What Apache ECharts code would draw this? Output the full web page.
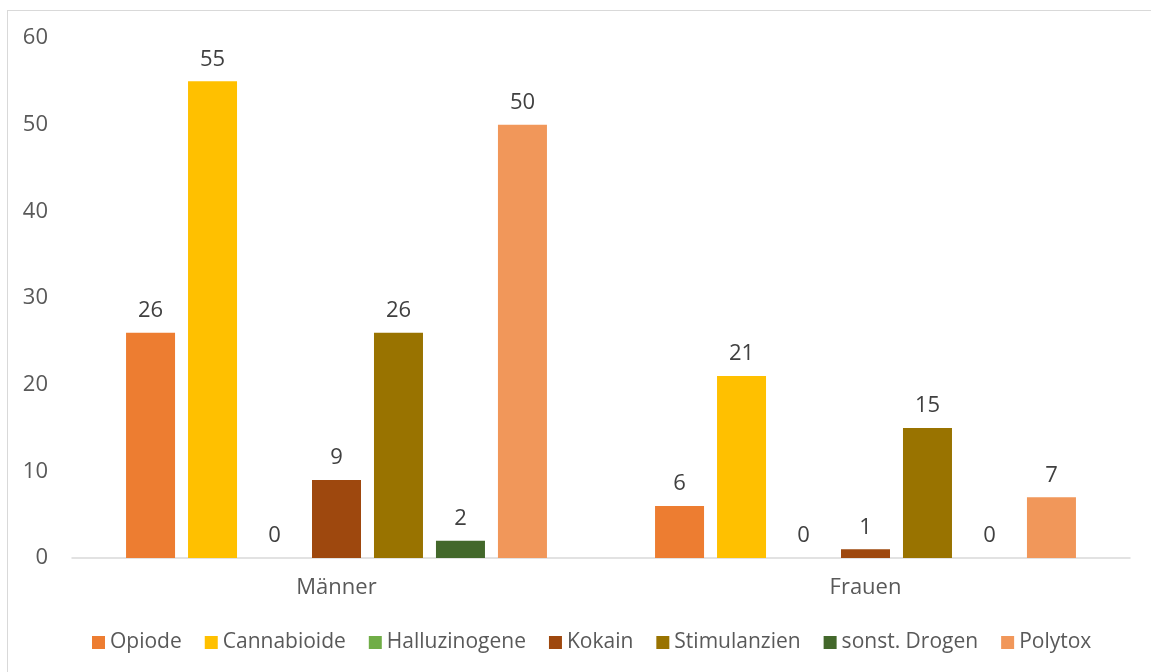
<!DOCTYPE html>
<html><head><meta charset="utf-8">
<script src="https://cdn.jsdelivr.net/npm/echarts@6/dist/echarts.min.js"></script>
<style>
html,body{margin:0;padding:0;background:#fff;}
#frame{position:absolute;left:7px;top:10px;width:1150px;height:670px;border:1px solid #d9d9d9;box-sizing:border-box;}
#chart{position:absolute;left:0;top:0;width:1151px;height:672px;}
</style></head>
<body>
<div id="frame"></div>
<div id="chart"></div>
<script>
const categories = ['Männer', 'Frauen'];
const seriesNames = ['Opiode', 'Cannabioide', 'Halluzinogene', 'Kokain', 'Stimulanzien', 'sonst. Drogen', 'Polytox'];
const opiode = [26, 6];
const cannabioide = [55, 21];
const halluzinogene = [0, 0];
const kokain = [9, 1];
const stimulanzien = [26, 15];
const sonstDrogen = [2, 0];
const polytox = [50, 7];
const yTicks = [0, 10, 20, 30, 40, 50, 60];

const values = [opiode, cannabioide, halluzinogene, kokain, stimulanzien, sonstDrogen, polytox];
const colors = ['#ED7D31', '#FFC000', '#70AD47', '#9E480E', '#997300', '#43682B', '#F1975A'];
const font = '"Open Sans", "Noto Sans", sans-serif';

const chart = echarts.init(document.getElementById('chart'), null, {renderer: 'canvas'});
chart.setOption({
  animation: false,
  textStyle: {fontFamily: font},
  grid: {left: 72, right: 21, top: 38, bottom: 114, containLabel: false},
  legend: {
    bottom: 14, left: 87,
    itemWidth: 13, itemHeight: 13, itemGap: 23,
    icon: 'rect',
    textStyle: {fontFamily: font, fontSize: 21, color: '#595959'},
    data: seriesNames
  },
  xAxis: {
    type: 'category', data: categories,
    axisLine: {lineStyle: {color: '#d9d9d9', width: 1.5}},
    axisTick: {show: false},
    axisLabel: {fontFamily: font, fontSize: 22, color: '#595959', margin: 19}
  },
  yAxis: {
    type: 'value', min: yTicks[0], max: yTicks[yTicks.length - 1], interval: 10,
    axisLine: {show: false}, axisTick: {show: false},
    splitLine: {show: false},
    axisLabel: {fontFamily: font, fontSize: 22, color: '#595959', margin: 24}
  },
  series: seriesNames.map((n, i) => ({
    name: n, type: 'bar', data: values[i],
    barWidth: 49, barGap: '26.5%',
    itemStyle: {color: colors[i]},
    label: {show: true, position: 'top', distance: 11, fontFamily: font, fontSize: 22, color: '#404040'}
  }))
});
</script>
</body></html>
